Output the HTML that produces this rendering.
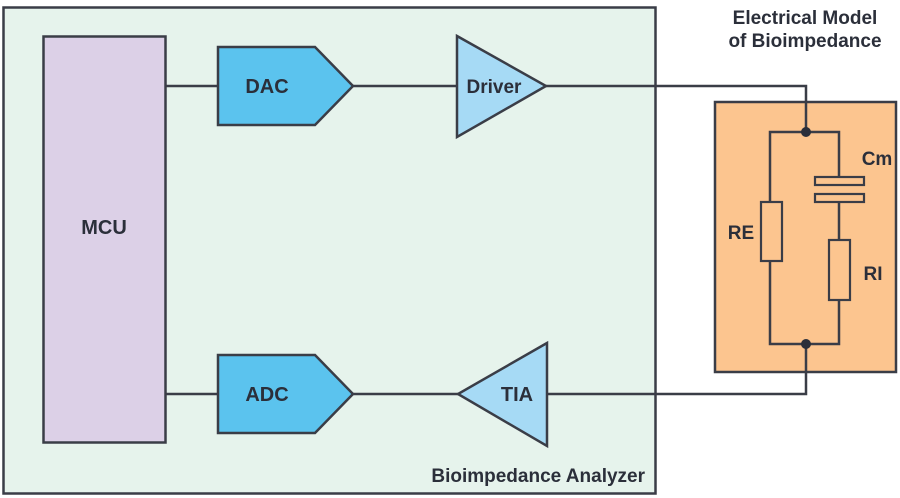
<!DOCTYPE html>
<html><head><meta charset="utf-8"><style>
html,body{margin:0;padding:0;background:#fff;}
svg{display:block;}
text{font-family:"Liberation Sans",Arial,sans-serif;font-weight:bold;fill:#2b2f3a;}
</style></head><body>
<svg width="900" height="498" viewBox="0 0 900 498" xmlns="http://www.w3.org/2000/svg">
<g stroke="#3a3d47" stroke-width="2.5" stroke-linejoin="miter">
<rect x="3.5" y="7.5" width="652" height="486" fill="#e6f3ec"/>
<rect x="43.5" y="36.5" width="122" height="406" fill="#dcd0e7"/>
<rect x="715" y="102" width="181" height="270" fill="#fcc58f"/>
<g fill="none">
<polyline points="166,86 218,86"/>
<polyline points="353,86 457,86"/>
<polyline points="546,86 806,86 806,132"/>
<polyline points="166,394 218,394"/>
<polyline points="353,394 458,394"/>
<polyline points="547,394 806,394 806,344"/>
<polyline points="770,202 770,132 839,132 839,180"/>
<polyline points="839,199 839,240"/>
<polyline points="770,261 770,344 839,344 839,300"/>
</g>
<polygon points="218,47 315,47 353,86 315,125 218,125" fill="#5bc3ee"/>
<polygon points="218,355 315,355 353,394 315,433 218,433" fill="#5bc3ee"/>
<polygon points="457,36 546,86 457,137" fill="#a6daf5"/>
<polygon points="547,343 458,394 547,446" fill="#a6daf5"/>
<rect x="761" y="202" width="21" height="59" fill="#fcc58f" stroke-width="2.2"/>
<rect x="829" y="240" width="21" height="60" fill="#fcc58f" stroke-width="2.2"/>
<rect x="815" y="177" width="49" height="8" fill="#fcc58f" stroke-width="2.2"/>
<rect x="815" y="194" width="49" height="8" fill="#fcc58f" stroke-width="2.2"/>
</g>
<circle cx="806" cy="132" r="5" fill="#2b2f3a"/>
<circle cx="806" cy="344" r="5" fill="#2b2f3a"/>
<text x="104" y="234" font-size="20" text-anchor="middle">MCU</text>
<text x="267" y="93" font-size="20" text-anchor="middle">DAC</text>
<text x="267" y="401" font-size="20" text-anchor="middle">ADC</text>
<text x="494" y="93" font-size="19" text-anchor="middle">Driver</text>
<text x="517" y="401" font-size="20" text-anchor="middle">TIA</text>
<text x="645" y="482" font-size="19" text-anchor="end">Bioimpedance Analyzer</text>
<text x="805" y="24" font-size="19" text-anchor="middle">Electrical Model</text>
<text x="805" y="47" font-size="19" text-anchor="middle">of Bioimpedance</text>
<text x="877" y="165" font-size="19" text-anchor="middle">Cm</text>
<text x="741" y="239" font-size="19" text-anchor="middle">RE</text>
<text x="873" y="280" font-size="19" text-anchor="middle">RI</text>
</svg>
</body></html>
